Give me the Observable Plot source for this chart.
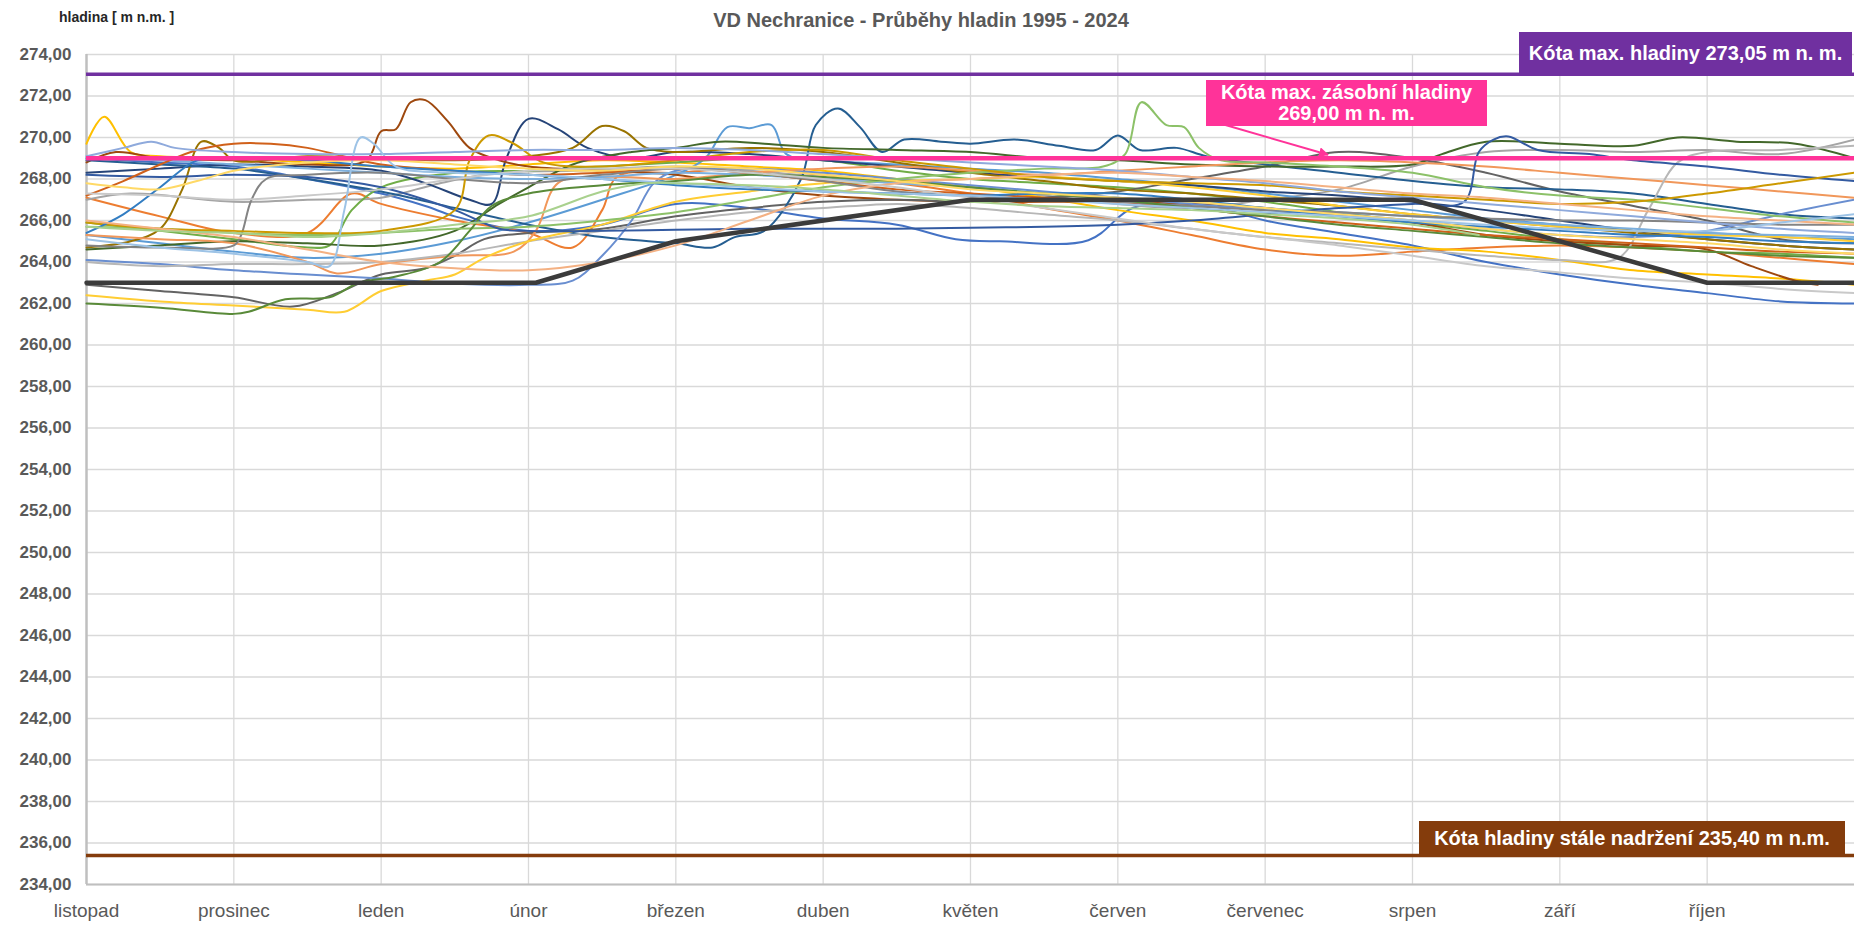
<!DOCTYPE html>
<html><head><meta charset="utf-8">
<script src="https://cdn.jsdelivr.net/npm/d3@7"></script>
<script src="https://cdn.jsdelivr.net/npm/@observablehq/plot@0.6"></script>
<style>
body{margin:0;background:#fff;font-family:"Liberation Sans",Arial,sans-serif;}
#wrap{position:relative;width:1854px;height:925px;overflow:hidden;background:#fff;}
#wrap svg{position:absolute;left:0;top:0;}
.box{position:absolute;color:#fff;font-weight:bold;font-size:20px;text-align:center;white-space:nowrap;display:flex;flex-direction:column;justify-content:center;line-height:21px;}
.txt{position:absolute;white-space:nowrap;font-weight:bold;}
</style></head><body><div id="wrap"></div>
<script>
// ---- data (month index 0 = listopad ... 12 = end of říjen; value = hladina m n.m.) ----
const months = ["listopad","prosinec","leden","únor","březen","duben","květen","červen","červenec","srpen","září","říjen"];
const yTicks = [234,236,238,240,242,244,246,248,250,252,254,256,258,260,262,264,266,268,270,272,274];
const years = [1995,1996,1997,1998,1999,2000,2001,2002,2003,2004,2005,2006,2007,2008,2009,2010,2011,2012,2013,2014,2015,2016,2017,2018,2019,2020,2021,2022,2023,2024];
const colors = ["#4472C4","#ED7D31","#A5A5A5","#FFC000","#5B9BD5","#70AD47","#264478","#9E480E","#636363","#997300","#255E91","#43682B","#698ED0","#F1975A","#B7B7B7","#FFCD33","#7CAFDD","#8CC168","#335AA1","#D0601A","#848484","#CC9900","#327DC2","#598A39","#8FAADC","#F4B183","#C9C9C9","#FFD966","#9DC3E6","#A9D18E"];

const maxLevel = 273.05, storageLevel = 269.00, deadLevel = 235.40;
const guideCurve = [[0,263],[3.05,263],[4,265],[6,267],[9,267],[11,263],[12,263]];

const y1995 = [[0,269.0],[0.5,268.8],[1,268.6],[1.5,268.0],[2,267.3],[2.3,266.7],[2.5,266.2],[3,265.5],[3.5,265.8],[4,266.8],[4.5,266.6],[5,266.1],[5.5,265.8],[5.9,265.1],[6.2,265.0],[6.8,265.05],[7.1,266.6],[7.5,266.9],[8,266.0],[8.5,265.4],[9,264.8],[9.5,264.0],[10,263.4],[10.5,262.9],[11,262.5],[11.5,262.1],[12,262.0]];
const y1996 = [[0,267.1],[0.5,266.2],[1,265.4],[1.5,265.4],[1.8,267.3],[2,266.8],[2.5,266.0],[3,265.4],[3.3,264.7],[3.5,266.5],[3.6,268.1],[4,268.3],[4.5,268.5],[5,268.2],[5.5,267.8],[6,267.3],[6.5,266.6],[7,266.0],[7.5,265.3],[8,264.6],[8.5,264.3],[9,264.5],[9.5,264.7],[10,264.8],[10.5,264.7],[11,264.5],[11.5,264.2],[12,263.9]];
const y1997 = [[0,267.0],[0.3,267.3],[1,266.9],[1.5,267.0],[2,267.1],[2.4,267.8],[2.8,268.3],[3.3,268.4],[4,268.6],[4.5,268.4],[5,268.1],[5.5,267.8],[6,267.6],[6.5,267.2],[7,266.8],[7.5,266.6],[8,267.0],[8.5,267.5],[9,268.6],[9.5,269.3],[10,269.4],[10.5,269.3],[11,269.4],[11.5,269.2],[12,269.9]];
const y1998 = [[0,269.7],[0.12,271.0],[0.3,269.3],[0.5,269.1],[1,269.0],[1.5,268.8],[2,268.6],[2.5,268.5],[3,268.7],[3.5,268.9],[4,268.8],[4.5,268.6],[5,268.4],[5.5,268.0],[6,267.6],[6.5,267.1],[7,266.5],[7.5,266.0],[8,265.4],[8.5,265.1],[9,264.7],[9.5,264.5],[10,264.1],[10.5,263.6],[11,263.4],[11.5,263.2],[12,262.9]];
const y1999 = [[0,265.3],[0.5,264.9],[1,264.5],[1.5,264.2],[2,264.4],[2.5,265.0],[3,265.9],[3.5,267.0],[4,268.2],[4.2,269.0],[4.35,270.5],[4.5,270.45],[4.65,270.6],[4.75,269.2],[5,268.9],[5.5,268.7],[6,268.5],[6.5,268.3],[7,268.0],[7.5,267.7],[8,267.3],[8.5,266.9],[9,266.5],[9.5,266.1],[10,265.8],[10.5,265.5],[11,265.4],[11.5,265.2],[12,265.1]];
const y2000 = [[0,265.9],[0.5,265.5],[1,265.1],[1.5,264.7],[1.65,264.8],[1.8,266.5],[2,267.6],[2.5,268.3],[3,268.4],[3.5,268.6],[4,268.8],[4.5,269.0],[5,268.9],[5.5,268.4],[6,268.0],[6.5,267.8],[7,267.6],[7.5,267.3],[8,266.9],[8.5,266.4],[9,265.9],[9.5,265.5],[10,265.1],[10.5,264.8],[11,264.5],[11.5,264.4],[12,264.2]];
const y2001 = [[0,268.3],[0.5,268.5],[1,268.7],[1.5,268.6],[2,268.4],[2.3,267.8],[2.6,267.0],[2.75,266.8],[2.85,269.0],[3.0,270.9],[3.2,270.4],[3.4,269.5],[3.7,269.0],[4,269.3],[4.5,269.2],[5,268.9],[5.5,268.6],[6,268.3],[6.5,268.1],[7,267.9],[7.5,267.7],[8,267.4],[8.5,267.2],[9,266.9],[9.5,266.5],[10,266.0],[10.5,265.5],[11,265.1],[11.5,264.8],[12,264.6]];
const y2002 = [[0,268.8],[0.2,269.3],[0.5,269.0],[1,268.9],[1.5,268.7],[1.9,268.9],[2.0,270.3],[2.1,270.4],[2.2,271.7],[2.3,271.8],[2.45,270.8],[2.6,269.5],[2.8,268.9],[3,268.6],[3.5,268.4],[4,268.2],[4.5,267.6],[5,267.2],[5.5,267.0],[6,266.9],[6.5,266.9],[7,266.9],[7.5,266.8],[8,266.6],[8.5,266.3],[9,265.9],[9.5,265.3],[10,265.0],[10.5,264.8],[11,264.6],[11.3,263.8],[11.6,263.1],[11.75,262.9]];
const y2003 = [[0,262.9],[0.5,262.6],[1,262.3],[1.4,261.85],[1.7,262.5],[2,263.4],[2.3,263.7],[2.5,264.3],[2.7,265.1],[3,265.4],[3.5,265.6],[4,266.2],[4.5,266.6],[5,266.9],[5.5,267.0],[6,266.9],[6.5,267.1],[7,267.4],[7.5,268.0],[8,268.6],[8.5,269.3],[9,269.0],[9.5,268.3],[10,267.4],[10.5,266.7],[11,266.0],[11.5,265.1],[12,264.9]];
const y2004 = [[0,264.7],[0.3,265.0],[0.5,265.6],[0.65,267.5],[0.78,269.8],[0.9,269.5],[1,268.9],[1.5,269.1],[2,269.0],[2.5,268.9],[3,269.1],[3.3,269.5],[3.5,270.55],[3.65,270.3],[3.8,269.5],[4,269.3],[4.5,269.5],[5,269.3],[5.5,268.8],[6,268.3],[6.5,267.9],[7,267.5],[7.5,267.3],[8,267.0],[8.5,266.7],[9,266.3],[9.5,266.0],[10,265.7],[10.5,265.4],[11,265.1],[11.5,264.8],[12,264.6]];
const y2005 = [[0,268.9],[0.5,268.7],[1,268.5],[1.5,268.0],[2,267.4],[2.5,266.6],[3,265.8],[3.5,265.2],[4,264.9],[4.25,264.7],[4.4,265.2],[4.6,265.5],[4.85,268.0],[4.95,270.6],[5.1,271.4],[5.25,270.5],[5.4,269.3],[5.55,269.9],[5.8,269.8],[6,269.7],[6.3,269.9],[6.6,269.6],[6.85,269.4],[7,270.1],[7.15,269.4],[7.4,269.5],[7.6,269.1],[8,268.7],[8.5,268.3],[9,267.9],[9.5,267.6],[10,267.5],[10.5,267.3],[11,266.8],[11.5,266.3],[12,266.1]];
const y2006 = [[0,264.6],[0.5,264.8],[1,265.0],[1.5,264.9],[2,264.8],[2.5,265.5],[2.8,266.8],[3,267.6],[3.3,268.7],[3.7,269.3],[4,269.5],[4.3,269.8],[4.6,269.7],[5,269.5],[5.5,269.4],[6,269.3],[6.5,269.0],[7,268.9],[7.5,268.7],[8,268.6],[8.5,268.6],[9,268.7],[9.2,269.2],[9.5,269.8],[10,269.7],[10.5,269.6],[10.8,270.0],[11.2,269.8],[11.6,269.7],[12,269.0]];
const y2007 = [[0,264.1],[0.5,263.9],[1,263.6],[1.5,263.4],[2,263.2],[2.5,262.95],[3,262.9],[3.3,263.1],[3.5,264.3],[3.7,266.0],[3.85,267.8],[4,268.4],[4.5,268.5],[5,268.3],[5.5,268.0],[6,267.7],[6.5,267.4],[7,267.1],[7.5,266.8],[8,266.5],[8.5,266.3],[9,266.0],[9.5,265.6],[10,265.3],[10.5,265.2],[11,265.5],[11.5,266.3],[12,267.0]];
const y2008 = [[0,265.3],[0.5,265.1],[1,264.9],[1.5,264.0],[1.7,263.45],[2,263.9],[2.5,264.3],[2.9,264.5],[3.05,265.5],[3.2,267.8],[3.5,268.1],[4,268.0],[4.5,268.3],[5,268.5],[5.5,268.6],[6,268.4],[6.5,268.2],[7,268.4],[7.5,268.6],[8,268.8],[8.5,268.9],[9,268.8],[9.5,268.6],[10,268.3],[10.5,268.0],[11,267.7],[11.5,267.4],[12,267.1]];
const y2009 = [[0,264.0],[0.5,263.8],[1,263.9],[1.5,263.9],[2,264.0],[2.5,264.4],[3,265.0],[3.5,265.5],[4,266.0],[4.5,266.4],[5,266.6],[5.5,266.8],[6,266.6],[6.5,266.3],[7,266.0],[7.5,265.6],[8,265.2],[8.5,264.9],[9,264.6],[9.5,264.3],[10,264.1],[10.4,264.2],[10.6,266.5],[10.8,268.8],[11,269.3],[11.5,269.4],[12,269.6]];
const y2010 = [[0,262.4],[0.5,262.1],[1,261.9],[1.5,261.7],[1.75,261.6],[2,262.6],[2.3,263.1],[2.5,263.4],[2.7,264.2],[3,265.0],[3.5,265.8],[4,266.9],[4.5,267.4],[5,267.8],[5.5,267.9],[6,268.0],[6.5,268.1],[7,267.9],[7.5,267.6],[8,267.2],[8.5,266.7],[9,266.3],[9.5,266.0],[10,265.7],[10.5,265.5],[11,265.3],[11.5,265.2],[12,265.0]];
const y2011 = [[0,269.0],[0.5,268.9],[1,268.7],[1.5,268.5],[2,268.3],[2.5,268.1],[3,268.0],[3.5,268.1],[4,268.3],[4.5,268.2],[5,268.0],[5.5,267.8],[6,267.6],[6.5,267.3],[7,267.1],[7.5,266.9],[8,266.6],[8.5,266.4],[9,266.2],[9.5,266.0],[10,265.8],[10.5,265.6],[11,265.4],[11.5,265.3],[12,265.2]];
const y2012 = [[0,265.7],[0.5,265.6],[1,265.4],[1.5,265.3],[2,265.4],[2.5,265.6],[3,265.7],[3.5,266.0],[4,266.4],[4.5,267.0],[5,267.6],[5.5,268.0],[6,268.3],[6.5,268.5],[6.9,268.6],[7.05,269.2],[7.16,271.7],[7.33,270.6],[7.45,270.5],[7.55,269.5],[7.7,268.9],[8,268.8],[8.5,268.6],[9,268.3],[9.5,267.6],[10,267.2],[10.5,267.0],[11,266.6],[11.5,266.2],[12,265.9]];
const y2013 = [[0,268.2],[0.5,268.1],[1,268.2],[1.5,268.1],[2,267.6],[2.5,266.5],[2.8,265.6],[3,265.5],[3.5,265.5],[4,265.55],[4.5,265.6],[5,265.6],[5.5,265.6],[6,265.65],[6.5,265.7],[7,265.8],[7.5,266.0],[8,266.3],[8.5,266.6],[9,266.8],[9.35,266.9],[9.45,269.3],[9.55,269.9],[9.65,270.05],[9.85,269.4],[10.2,269.2],[10.5,268.9],[11,268.6],[11.5,268.2],[12,267.9]];
const y2014 = [[0,267.2],[0.25,267.9],[0.5,268.7],[0.75,269.4],[1,269.7],[1.25,269.7],[1.5,269.5],[1.8,269.0],[2,268.7],[2.5,268.4],[3,268.2],[3.5,268.3],[4,268.5],[4.5,268.3],[5,267.9],[5.5,267.5],[6,267.3],[6.5,267.1],[7,266.9],[7.5,266.6],[8,266.2],[8.5,265.9],[9,265.6],[9.5,265.3],[10,265.1],[10.5,264.9],[11,264.7],[11.5,264.5],[12,264.4]];
const y2015 = [[0,264.8],[0.5,264.7],[1,264.8],[1.05,265.3],[1.12,267.0],[1.22,268.0],[1.5,268.2],[2,268.3],[2.5,268.0],[3,267.8],[3.5,268.2],[4,268.5],[4.5,268.3],[5,267.9],[5.5,267.4],[6,267.2],[6.5,267.0],[7,266.9],[7.5,266.7],[8,266.5],[8.5,266.4],[9,266.2],[9.5,266.1],[10,266.0],[10.5,266.0],[11,265.9],[11.5,265.8],[12,265.8]];
const y2016 = [[0,265.9],[0.5,265.6],[1,265.5],[1.5,265.4],[2,265.5],[2.5,266.5],[2.6,268.9],[2.73,270.1],[2.9,269.7],[3.1,268.8],[3.5,268.6],[4,268.9],[4.5,269.3],[5,269.4],[5.5,268.9],[6,268.5],[6.5,268.1],[7,267.9],[7.5,267.8],[8,267.7],[8.5,267.4],[9,267.2],[9.5,267.0],[10,266.8],[10.5,266.9],[11,267.3],[11.5,267.8],[12,268.3]];
const y2017 = [[0,265.4],[0.25,266.3],[0.5,267.6],[0.75,268.9],[1,269.0],[1.5,268.9],[2,268.6],[2.5,268.4],[3,268.2],[3.5,268.0],[4,267.7],[4.5,267.5],[5,267.4],[5.5,267.3],[6,267.2],[6.5,267.3],[7,267.3],[7.5,267.0],[8,266.6],[8.5,266.2],[9,265.9],[9.5,265.7],[10,265.5],[10.5,265.3],[11,265.2],[11.5,265.0],[12,264.9]];
const y2018 = [[0,262.0],[0.5,261.8],[1,261.5],[1.1,261.6],[1.35,262.2],[1.65,262.3],[1.85,263.0],[2.1,263.3],[2.4,264.0],[2.6,265.5],[2.75,266.7],[3,267.3],[3.5,267.7],[4,267.9],[4.5,268.2],[5,268.1],[5.5,267.9],[6,267.6],[6.5,267.3],[7,267.0],[7.5,266.6],[8,266.2],[8.5,265.8],[9,265.5],[9.5,265.2],[10,264.9],[10.5,264.7],[11,264.5],[11.5,264.3],[12,264.2]];
const y2019 = [[0,269.1],[0.25,269.5],[0.44,269.8],[0.6,269.5],[1,269.3],[1.5,269.2],[2,269.2],[2.5,269.3],[3,269.4],[3.5,269.4],[4,269.5],[4.5,269.4],[5,269.2],[5.5,269.0],[6,268.8],[6.5,268.6],[7,268.4],[7.5,268.1],[8,267.8],[8.5,267.4],[9,267.1],[9.5,266.8],[10,266.5],[10.5,266.2],[11,265.9],[11.5,265.6],[12,265.4]];
const y2020 = [[0,266.0],[0.5,265.6],[1,265.2],[1.5,264.6],[2,264.0],[2.5,263.7],[3,263.6],[3.5,264.0],[4,264.8],[4.5,266.0],[5,267.2],[5.5,267.8],[6,268.0],[6.5,268.2],[7,268.3],[7.5,268.1],[8,267.9],[8.5,267.6],[9,267.3],[9.5,267.1],[10,266.8],[10.5,266.5],[11,266.2],[11.5,266.0],[12,265.8]];
const y2021 = [[0,267.3],[0.5,267.2],[1,267.0],[1.5,267.2],[2,267.5],[2.5,268.0],[3,268.4],[3.5,268.5],[4,268.5],[4.5,268.3],[5,268.0],[5.5,267.6],[6,267.1],[6.5,266.6],[7,266.1],[7.5,265.6],[8,265.2],[8.5,264.8],[9,264.3],[9.5,263.8],[10,263.5],[10.5,263.2],[11,263.0],[11.5,262.7],[12,262.5]];
const y2022 = [[0,267.8],[0.25,267.6],[0.5,267.5],[0.75,267.9],[1,268.4],[1.5,268.8],[2,268.9],[2.5,268.7],[3,268.5],[3.5,268.4],[4,268.6],[4.5,268.5],[5,268.2],[5.5,267.9],[6,267.5],[6.5,267.3],[7,267.1],[7.5,266.9],[8,266.6],[8.5,266.3],[9,266.0],[9.5,265.6],[10,265.3],[10.5,265.1],[11,264.9],[11.5,264.6],[12,264.4]];
const y2023 = [[0,265.1],[0.5,264.7],[1,264.4],[1.5,264.0],[1.65,263.8],[1.75,266.5],[1.86,270.0],[1.95,269.7],[2.1,268.6],[2.5,268.3],[3,268.2],[3.5,268.0],[4,267.8],[4.5,267.6],[5,267.4],[5.5,267.3],[6,267.2],[6.5,267.0],[7,266.8],[7.5,266.6],[8,266.4],[8.5,266.2],[9,266.0],[9.5,265.8],[10,265.6],[10.5,265.5],[11,265.5],[11.5,265.9],[12,266.3]];
const y2024 = [[0,265.7],[0.5,265.5],[1,265.4],[1.5,265.2],[2,265.4],[2.5,265.8],[3,266.2],[3.5,267.4],[3.8,267.8],[4,267.8],[4.5,267.7],[5,267.5],[5.5,267.2],[6,266.9],[6.5,266.7],[7,266.6],[7.5,266.5],[8,266.3],[8.5,266.1],[9,265.8],[9.45,265.3]];

const yearLevels = [y1995,y1996,y1997,y1998,y1999,y2000,y2001,y2002,y2003,y2004,y2005,y2006,y2007,y2008,y2009,y2010,y2011,y2012,y2013,y2014,y2015,y2016,y2017,y2018,y2019,y2020,y2021,y2022,y2023,y2024];

// ---- build ----
const table = years.flatMap((yr, i) => yearLevels[i].map(([m, v]) => ({year: yr, m, v})));
const fmt = d => d.toFixed(2).replace(".", ",");

const chart = Plot.plot({
  width: 1854, height: 925,
  marginLeft: 86, marginRight: 0, marginTop: 54, marginBottom: 41,
  style: {fontFamily: "'Liberation Sans', Arial, sans-serif", background: "white", overflow: "visible"},
  x: {domain: [0, 12], axis: null},
  y: {domain: [234, 274], axis: null},
  color: {type: "ordinal", domain: years, range: colors},
  marks: [
    Plot.gridY(yTicks, {stroke: "#d9d9d9", strokeOpacity: 1, strokeWidth: 1.3}),
    Plot.gridX(d3.range(1, 12), {stroke: "#d9d9d9", strokeOpacity: 1, strokeWidth: 1.3}),
    Plot.ruleX([0], {stroke: "#bfbfbf", strokeWidth: 2.5}),
    Plot.ruleY([234], {stroke: "#bfbfbf", strokeWidth: 2}),
    Plot.line(table, {x: "m", y: "v", z: "year", stroke: "year", strokeWidth: 2, curve: "catmull-rom"}),
    Plot.line(guideCurve, {x: d => d[0], y: d => d[1], stroke: "#3b3b3b", strokeWidth: 4.5}),
    Plot.ruleY([deadLevel], {stroke: "#843C0C", strokeWidth: 3.5}),
    Plot.ruleY([storageLevel], {stroke: "#FF3399", strokeWidth: 4.5}),
    Plot.ruleY([maxLevel], {stroke: "#7030A0", strokeWidth: 3.5}),
    Plot.axisY(yTicks, {tickSize: 0, tickPadding: 15, tickFormat: fmt, fontSize: 17, fontWeight: "bold", fill: "#595959", label: null}),
    Plot.axisX(d3.range(0, 12), {tickSize: 0, tickPadding: 19, tickFormat: i => months[i], fontSize: 19, fill: "#595959", label: null})
  ]
});

const wrap = document.getElementById("wrap");
wrap.appendChild(chart);
const ys = chart.scale("y");

function addDiv(cls, css, html) {
  const d = document.createElement("div");
  d.className = cls;
  Object.assign(d.style, css);
  d.innerHTML = html;
  wrap.appendChild(d);
  return d;
}

// title and axis label
addDiv("txt", {left: "0px", width: "1842px", top: "9px", textAlign: "center", fontSize: "20px", color: "#595959"}, "VD Nechranice - Průběhy hladin 1995 - 2024");
addDiv("txt", {left: "59px", top: "9px", fontSize: "14px", color: "#262626"}, "hladina [ m n.m. ]");

// annotation boxes
const yMax = ys.apply(maxLevel), yStor = ys.apply(storageLevel), yDead = ys.apply(deadLevel);
addDiv("box", {left: "1519px", width: "333px", top: "32px", height: (yMax - 32 + 1) + "px", background: "#7030A0"}, "Kóta max. hladiny 273,05 m n. m.");
addDiv("box", {left: "1419px", width: "426px", top: "821px", height: (yDead - 821 + 1) + "px", background: "#843C0C"}, "Kóta hladiny stále nadržení 235,40 m n.m.");

// arrow from the pink box to the storage level line
const ns = "http://www.w3.org/2000/svg";
const ov = document.createElementNS(ns, "svg");
ov.setAttribute("width", 1854); ov.setAttribute("height", 925);
ov.style.position = "absolute"; ov.style.left = "0"; ov.style.top = "0";
ov.innerHTML = `<defs><marker id="ah" viewBox="0 0 10 10" refX="9" refY="5" markerWidth="5" markerHeight="5" orient="auto"><path d="M0,0L10,5L0,10z" fill="#FF3399"/></marker></defs>
<line x1="1222" y1="124" x2="1328" y2="${yStor - 3}" stroke="#FF3399" stroke-width="2" marker-end="url(#ah)"/>`;
wrap.appendChild(ov);
addDiv("box", {left: "1206px", width: "281px", top: "80px", height: "46px", background: "#FF3399"}, "Kóta max. zásobní hladiny<br>269,00 m n. m.");
</script></body></html>
